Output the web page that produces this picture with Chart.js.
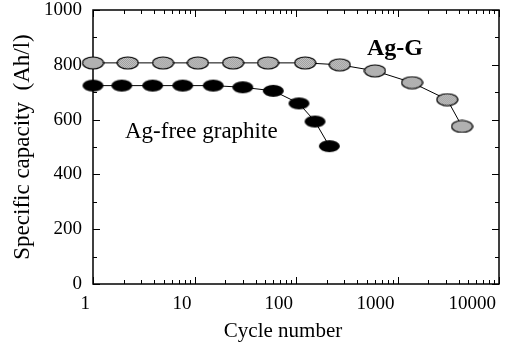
<!DOCTYPE html>
<html lang="en">
<head>
<meta charset="UTF-8">
<title>Specific capacity vs cycle number</title>
<script src="https://cdn.jsdelivr.net/npm/chart.js@4.4.1/dist/chart.umd.min.js"></script>
<style>
  html, body { margin: 0; padding: 0; background: #fff; }
  #wrap { width: 505px; height: 350px; }
</style>
</head>
<body>
<div id="wrap"><canvas id="chart" width="505" height="350"></canvas></div>
<script>
// values
const agGCycles = [1, 2.2, 4.9, 10.8, 24, 53, 123, 270, 600, 1390, 3090, 4320];
const agGCapacity = [807, 807, 807, 807, 807, 807, 807, 800, 778, 735, 673, 575];
const freeCycles = [1, 1.92, 3.87, 7.65, 15.3, 29.9, 59.7, 107, 154, 213];
const freeCapacity = [724, 724, 724, 724, 724, 718, 705, 659, 593, 503];
const xTickValues = [1, 10, 100, 1000, 10000];
const yTickValues = [0, 200, 400, 600, 800, 1000];

const serif = "'Liberation Serif', 'Times New Roman', serif";

function ellipseMarker(stipple) {
    const c = document.createElement('canvas');
    c.width = 23; c.height = 14;
    const g = c.getContext('2d');
    g.beginPath();
    g.ellipse(11.5, 7, 10.5, 6, 0, 0, Math.PI * 2);
    if (stipple) {
        g.save();
        g.clip();
        g.fillStyle = '#e2e2e2';
        g.fillRect(0, 0, 23, 14);
        g.fillStyle = '#808080';
        for (let i = 0; i < 23; i++)
            for (let j = 0; j < 14; j++)
                if ((i + j) % 2 === 0) g.fillRect(i, j, 1, 1);
        g.restore();
        g.lineWidth = 1.2;
        g.strokeStyle = '#000';
        g.stroke();
    } else {
        g.fillStyle = '#000';
        g.fill();
    }
    return c;
}

// frame with inward ticks on all four sides, plus the text labels
const frameTicks = {
    id: 'frameTicks',
    beforeDatasetsDraw(chart) {
        const ctx = chart.ctx;
        const a = chart.chartArea;
        const xs = chart.scales.x, ys = chart.scales.y;
        ctx.save();
        ctx.strokeStyle = '#000';
        ctx.lineWidth = 1.5;
        ctx.strokeRect(a.left, a.top, a.right - a.left, a.bottom - a.top);
        ctx.lineWidth = 1;
        ctx.beginPath();
        for (let v = 0; v <= 1000; v += 100) {
            const y = Math.round(ys.getPixelForValue(v)) + 0.5;
            const len = yTickValues.includes(v) ? 7 : 4;
            ctx.moveTo(a.left, y); ctx.lineTo(a.left + len, y);
            ctx.moveTo(a.right, y); ctx.lineTo(a.right - len, y);
        }
        for (let d = 1; d < 10000; d *= 10) {
            for (let k = 1; k <= 10; k++) {
                const v = k * d;
                const x = Math.round(xs.getPixelForValue(v)) + 0.5;
                const len = xTickValues.includes(v) ? 7 : 4;
                ctx.moveTo(x, a.bottom); ctx.lineTo(x, a.bottom - len);
                ctx.moveTo(x, a.top); ctx.lineTo(x, a.top + len);
            }
        }
        ctx.stroke();
        ctx.restore();
    },
    afterDraw(chart) {
        const ctx = chart.ctx;
        ctx.save();
        ctx.fillStyle = '#000';
        ctx.textBaseline = 'alphabetic';
        ctx.font = 'bold 24px ' + serif;
        ctx.fillText('Ag-G', 367, 55);
        ctx.font = '23px ' + serif;
        ctx.fillText('Ag-free graphite', 125, 138);
        ctx.font = '21px ' + serif;
        ctx.textAlign = 'center';
        ctx.fillText('Cycle number', 283, 337);
        ctx.restore();
    }
};

new Chart(document.getElementById('chart'), {
    type: 'line',
    data: {
        datasets: [{
            label: 'Ag-G',
            data: agGCycles.map((c, i) => ({ x: c, y: agGCapacity[i] })),
            borderColor: '#000',
            borderWidth: 1,
            pointStyle: ellipseMarker(true),
            clip: false
        }, {
            label: 'Ag-free graphite',
            data: freeCycles.map((c, i) => ({ x: c, y: freeCapacity[i] })),
            borderColor: '#000',
            borderWidth: 1,
            pointStyle: ellipseMarker(false),
            clip: false
        }]
    },
    options: {
        responsive: false,
        animation: false,
        devicePixelRatio: 1,
        layout: { padding: { top: 10, right: 6, left: 0, bottom: 0 } },
        plugins: { legend: { display: false }, tooltip: { enabled: false } },
        scales: {
            x: {
                type: 'logarithmic',
                min: 1,
                max: 10000,
                afterBuildTicks: s => { s.ticks = xTickValues.map(v => ({ value: v })); },
                afterFit: s => { s.height = 66; s.paddingLeft = 0; s.paddingRight = 0; },
                grid: { display: false, drawTicks: false },
                border: { display: false },
                ticks: {
                    callback: v => String(v),
                    color: '#000',
                    font: { family: serif, size: 19 },
                    padding: 9,
                    align: 'end',
                    labelOffset: -3,
                    maxRotation: 0,
                    autoSkip: false
                }
            },
            y: {
                min: 0,
                max: 1000,
                afterBuildTicks: s => { s.ticks = yTickValues.map(v => ({ value: v })); },
                afterFit: s => { s.width = 93; s.paddingTop = 0; s.paddingBottom = 0; },
                grid: { display: false, drawTicks: false },
                border: { display: false },
                ticks: {
                    callback: v => String(v),
                    color: '#000',
                    font: { family: serif, size: 19 },
                    padding: 11
                },
                title: {
                    display: true,
                    text: 'Specific capacity  (Ah/l)',
                    color: '#000',
                    font: { family: serif, size: 23 },
                    padding: { top: 9, bottom: 0 }
                }
            }
        }
    },
    plugins: [frameTicks]
});
</script>
</body>
</html>
